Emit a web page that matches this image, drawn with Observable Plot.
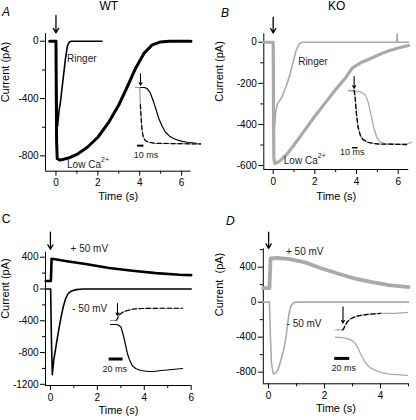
<!DOCTYPE html>
<html><head><meta charset="utf-8">
<script src="https://cdn.jsdelivr.net/npm/d3@7"></script>
<script src="https://cdn.jsdelivr.net/npm/@observablehq/plot@0.6"></script>
<style>
body{margin:0;background:#fff;}
#fig{position:relative;width:416px;height:420px;overflow:hidden;font-family:'Liberation Sans',Arial,sans-serif;color:#000;}
.abs{position:absolute;}
.lbl{position:absolute;font-size:12px;line-height:12px;white-space:nowrap;}
</style></head><body><div id="fig"></div>
<script>
// ---------- DATA (time in s, current in pA) ----------
// Panel A – WT
const wtRingerT = [-0.3, 0, 0.02, 0.05, 0.08, 0.15, 0.2, 0.3, 0.4, 0.45, 0.55, 0.65, 0.75, 2.2];
const wtRingerI = [0, 0, -300, -560, -590, -480, -440, -315, -190, -124, -30, -3, 0, 0];
const wtLowT = [-0.3, 0, 0.03, 0.06, 0.2, 0.6, 1.0, 1.5, 2.0, 2.5, 3.0, 3.4, 3.8, 4.2, 4.6, 5.0, 5.4, 6.45];
const wtLowI = [0, 0, -700, -820, -830, -815, -790, -740, -670, -570, -445, -320, -190, -85, -25, -5, 0, 0];
// Panel B – KO
const koRingerT = [-0.45, 0, 0.03, 0.07, 0.12, 0.2, 0.4, 0.6, 0.8, 0.95, 1.1, 1.25, 1.4, 5.93, 5.95, 5.97, 6.5];
const koRingerI = [0, 0, -300, -410, -340, -300, -270, -220, -160, -100, -40, -8, 0, 0, 40, 0, 0];
const koLowT = [-0.45, 0, 0.03, 0.08, 0.3, 0.7, 1.0, 1.5, 2.0, 2.5, 3.0, 3.5, 3.8, 4.2, 4.7, 5.2, 5.6, 6.0, 6.5];
const koLowI = [0, 0, -560, -590, -580, -540, -500, -430, -360, -295, -230, -170, -125, -100, -78, -55, -40, -28, -16];
// Panel C – WT, ±50 mV
const cPosT = [-0.2, 0.02, 0.05, 0.2, 0.7, 1.5, 2.5, 3.5, 4.5, 5.5, 6.0];
const cPosI = [100, 100, 380, 375, 350, 315, 265, 230, 200, 180, 175];
const cNegT = [-0.2, 0.01, 0.04, 0.08, 0.14, 0.25, 0.35, 0.45, 0.55, 0.65, 0.75, 0.9, 1.1, 1.4, 6.0];
const cNegI = [0, 0, -600, -1080, -900, -700, -520, -360, -220, -120, -60, -25, -8, 0, 0];
// Panel D – KO, ±50 mV
const dPosT = [-0.19, 0.03, 0.07, 0.3, 0.7, 1.3, 1.9, 2.5, 3.1, 3.7, 4.3, 5.0];
const dPosI = [160, 160, 500, 505, 495, 455, 385, 325, 268, 228, 195, 172];
const dNegT = [-0.19, 0.03, 0.06, 0.1, 0.17, 0.25, 0.35, 0.45, 0.55, 0.62, 0.68, 0.73, 0.8, 0.9, 1.0, 5.0];
const dNegI = [0, 0, -350, -700, -820, -810, -760, -650, -530, -400, -250, -130, -40, -5, 0, 0];

// Insets (time in ms, normalised current)
const insASlowT = [0, 8, 14, 18, 23, 28, 32, 36, 41, 46, 52, 59, 70, 80, 100];
const insASlowV = [0, 0, 0, -0.02, -0.1, -0.26, -0.4, -0.55, -0.68, -0.78, -0.85, -0.9, -0.94, -0.96, -0.99];
const insAFastT = [0, 6.5, 7.5, 8.5, 10, 12, 15, 20, 30, 100];
const insAFastV = [0, 0, -0.3, -0.5, -0.75, -0.87, -0.93, -0.96, -0.98, -0.99];
const insAFitFrom = 7.5;
const insBSlowT = [0, 20, 30, 35, 40, 45, 50, 56, 65, 100, 112];
const insBSlowV = [0, -0.02, -0.08, -0.22, -0.45, -0.7, -0.86, -0.95, -0.99, -1.0, -0.96];
const insBFastT = [0, 10, 11.5, 14, 17, 21, 26, 35, 50, 103];
const insBFastV = [0, 0, -0.1, -0.42, -0.68, -0.83, -0.91, -0.96, -0.99, -1.0];
const insBFitFrom = 10;
const insCUpT = [0, 8, 10, 13, 18, 24, 33, 45, 70, 103];
const insCUpV = [0, 0, 0.04, 0.12, 0.17, 0.2, 0.23, 0.24, 0.245, 0.245];
const insCFitFrom = 8;
const insCLowT = [0, 9, 12, 15, 19, 22, 24, 27, 31, 36, 43, 55, 62, 72, 81, 103];
const insCLowV = [-0.08, -0.08, -0.1, -0.13, -0.33, -0.52, -0.65, -0.78, -0.9, -0.96, -1.0, -1.02, -1.02, -1.0, -0.99, -0.96];
const insDUpT = [0, 9.5, 11, 13, 16, 20, 27, 35, 45, 60, 80, 96];
const insDUpV = [0, 0, 0.03, 0.1, 0.18, 0.24, 0.29, 0.32, 0.34, 0.36, 0.36, 0.38];
const insDFitRange = [9.5, 76];
const insDLowT = [0, 10, 18, 24, 28, 32, 36, 40, 46, 53, 62, 72, 96];
const insDLowV = [-0.16, -0.17, -0.2, -0.25, -0.33, -0.47, -0.6, -0.72, -0.82, -0.88, -0.93, -0.96, -0.99];

// Ticks
const timeTicks = [0, 2, 4, 6];
const timeTicksD = [0, 2, 4];
const timeMinor = [1, 3, 5];
const aTicks = [0, -400, -800], aMinor = [-200, -600];
const bTicks = [0, -200, -400, -600], bMinor = [-100, -300, -500];
const cTicks = [400, 0, -400, -800, -1200], cMinor = [200, -200, -600, -1000];
const dTicks = [400, 0, -400, -800], dMinor = [600, 200, -200, -600];

// ---------- RENDERING ----------
const FONT = "'Liberation Sans', Arial, sans-serif";
const BLACK = "#000", GRAY = "#aaaaaa";
const pts = (ts, vs) => ts.map((t, i) => ({t, v: vs[i]}));
const fmt = d => String(d);
const fig = document.getElementById("fig");

function place(el, left, top) {
  const w = document.createElement("div");
  w.className = "abs";
  w.style.left = left + "px"; w.style.top = top + "px";
  w.appendChild(el); fig.appendChild(w);
}

function panel(c) {
  const marks = [
    Plot.ruleX([c.xDomain[0]], {stroke: BLACK, strokeWidth: 1}),
    Plot.ruleY([c.yDomain[0]], {stroke: BLACK, strokeWidth: 1}),
    Plot.axisX(c.xTicks, {tickSize: 5, tickPadding: 3, label: null, tickFormat: fmt, fontSize: 10}),
    Plot.axisX(timeMinor.filter(d => d <= c.xDomain[1]), {tickSize: 3, label: null, tickFormat: () => ""}),
    Plot.axisY(c.yTicks, {tickSize: 5, tickPadding: 2, label: null, tickFormat: fmt, fontSize: 10}),
    Plot.axisY(c.yMinor, {tickSize: 3, label: null, tickFormat: () => ""}),
    ...c.series.map(s => Plot.line(pts(s.t, s.v), {x: "t", y: "v", stroke: s.color, strokeWidth: s.width, strokeLinejoin: "round", strokeLinecap: "round"})),
    Plot.text(c.labels, {x: "t", y: "v", text: "text", textAnchor: "start", fontSize: 10, fill: "#222"}),
    Plot.text(c.labels.filter(d => d.sup), {x: "t", y: "v", text: "sup", textAnchor: "start", fontSize: 7, dx: 34, dy: -5, fill: "#222"}),
    Plot.arrow([c.arrow], {x: "t", y1: "from", y2: "to", stroke: BLACK, strokeWidth: 1.3, headLength: 6}),
    Plot.text([c.yLabel], {text: d => d, frameAnchor: "left", rotate: -90, dx: c.yLabelDx, fontSize: 11}),
    Plot.text(["Time (s)"], {text: d => d, frameAnchor: "bottom", dy: c.xLabelDy, fontSize: 11})
  ];
  const svg = Plot.plot({
    width: c.width, height: c.height,
    marginLeft: c.m[0], marginRight: c.m[1], marginTop: c.m[2], marginBottom: c.m[3],
    x: {domain: c.xDomain}, y: {domain: c.yDomain},
    style: {fontFamily: FONT, fontSize: "10px", background: "transparent", overflow: "visible", color: "#000"},
    marks
  });
  place(svg, c.left, c.top);
}

function inset(c) {
  const marks = [
    ...c.series.map(s => Plot.line(pts(s.t, s.v).filter(d => d.t >= (s.from ?? -Infinity) && d.t <= (s.to ?? Infinity)),
      {x: "t", y: "v", stroke: s.color, strokeWidth: s.width, strokeDasharray: s.dash, strokeLinejoin: "round"})),
    Plot.ruleY([c.bar], {x1: "t1", x2: "t2", y: "v", stroke: BLACK, strokeWidth: c.bar.w}),
    Plot.text([c.bar], {x: "tx", y: "vx", text: "text", fontSize: 9, fill: "#222"}),
    Plot.arrow([c.arrow], {x: "t", y1: "from", y2: "to", stroke: BLACK, strokeWidth: 1.1, headLength: 4})
  ];
  const svg = Plot.plot({
    width: c.w, height: c.h, margin: 0,
    x: {domain: c.xd, axis: null}, y: {domain: c.yd, axis: null},
    style: {fontFamily: FONT, background: "transparent", overflow: "visible"},
    marks
  });
  place(svg, c.left, c.top);
}

panel({
  left: 0, top: 0, width: 208, height: 205, m: [45, 17.5, 33, 34.3],
  xDomain: [-0.5, 6.45], yDomain: [-907, 54], xTicks: timeTicks, yTicks: aTicks, yMinor: aMinor,
  series: [
    {t: wtLowT, v: wtLowI, color: BLACK, width: 3},
    {t: wtRingerT, v: wtRingerI, color: BLACK, width: 1.6}
  ],
  labels: [{t: 0.53, v: -124, text: "Ringer"}, {t: 0.53, v: -860, text: "Low Ca", sup: "2+"}],
  arrow: {t: 0, from: 180, to: 58},
  yLabel: "Current (pA)", yLabelDx: -40, xLabelDy: 28.6
});
panel({
  left: 208, top: 0, width: 208, height: 205, m: [55.3, 7.7, 33.3, 36],
  xDomain: [-0.45, 6.51], yDomain: [-619, 41], xTicks: timeTicks, yTicks: bTicks, yMinor: bMinor,
  series: [
    {t: koLowT, v: koLowI, color: GRAY, width: 3.2},
    {t: koRingerT, v: koRingerI, color: GRAY, width: 1.6}
  ],
  labels: [{t: 1.2, v: -97, text: "Ringer"}, {t: 0.51, v: -576, text: "Low Ca", sup: "2+"}],
  arrow: {t: 0, from: 122, to: 45},
  yLabel: "Current (pA)", yLabelDx: -44, xLabelDy: 30.3
});
panel({
  left: 0, top: 205, width: 208, height: 215, m: [45, 17.3, 46.7, 35],
  xDomain: [-0.21, 6.0], yDomain: [-1215, 463], xTicks: timeTicks, yTicks: cTicks, yMinor: cMinor,
  series: [
    {t: cPosT, v: cPosI, color: BLACK, width: 2.6},
    {t: cNegT, v: cNegI, color: BLACK, width: 1.6}
  ],
  labels: [{t: 0.86, v: 505, text: "+ 50 mV"}, {t: 0.93, v: -249, text: "- 50 mV"}],
  arrow: {t: 0, from: 714, to: 500},
  yLabel: "Current (pA)", yLabelDx: -40, xLabelDy: 28
});
panel({
  left: 208, top: 205, width: 208, height: 215, m: [54.8, 8, 43.3, 36.7],
  xDomain: [-0.19, 5.0], yDomain: [-933, 610], xTicks: timeTicksD, yTicks: dTicks, yMinor: dMinor,
  series: [
    {t: dPosT, v: dPosI, color: GRAY, width: 3.8},
    {t: dNegT, v: dNegI, color: GRAY, width: 1.6}
  ],
  labels: [{t: 0.62, v: 571, text: "+ 50 mV"}, {t: 0.64, v: -247, text: "- 50 mV"}],
  arrow: {t: 0, from: 800, to: 615},
  yLabel: "Current  (pA)", yLabelDx: -43.5, xLabelDy: 28.4
});

inset({
  left: 135, top: 87, w: 65, h: 57, xd: [0, 100], yd: [-1, 0],
  series: [
    {t: insASlowT, v: insASlowV, color: BLACK, width: 1.2},
    {t: insAFastT, v: insAFastV, color: "#999", width: 1.2},
    {t: insAFastT, v: insAFastV, color: BLACK, width: 1.2, dash: "4,3", from: insAFitFrom}
  ],
  bar: {t1: 3, t2: 13, v: -1.02, w: 2, tx: 16, vx: -1.18, text: "10 ms"},
  arrow: {t: 7.7, from: 0.24, to: 0.04}
});
inset({
  left: 348, top: 90, w: 62, h: 54, xd: [0, 110], yd: [-1, 0],
  series: [
    {t: insBSlowT, v: insBSlowV, color: GRAY, width: 1.3},
    {t: insBFastT, v: insBFastV, color: GRAY, width: 1.3},
    {t: insBFastT, v: insBFastV, color: BLACK, width: 1.3, dash: "4,3", from: insBFitFrom}
  ],
  bar: {t1: 7, t2: 17, v: -1.06, w: 1.5, tx: 6.5, vx: -1.14, text: "10 ms"},
  arrow: {t: 10, from: 0.26, to: 0.04}
});
inset({
  left: 110, top: 307, w: 72, h: 64, xd: [0, 103], yd: [-1.02, 0.26],
  series: [
    {t: insCUpT, v: insCUpV, color: "#999", width: 1.2},
    {t: insCUpT, v: insCUpV, color: BLACK, width: 1.2, dash: "4,3", from: insCFitFrom},
    {t: insCLowT, v: insCLowV, color: BLACK, width: 1.2}
  ],
  bar: {t1: -2, t2: 18, v: -0.77, w: 3, tx: 6, vx: -0.97, text: "20 ms"},
  arrow: {t: 10, from: 0.34, to: 0.1}
});
inset({
  left: 335, top: 311, w: 72, h: 64.4, xd: [0, 96], yd: [-1.0, 0.4],
  series: [
    {t: insDUpT, v: insDUpV, color: GRAY, width: 1.3},
    {t: insDUpT, v: insDUpV, color: BLACK, width: 1.3, dash: "4,3", from: insDFitRange[0], to: insDFitRange[1]},
    {t: insDLowT, v: insDLowV, color: GRAY, width: 1.3}
  ],
  bar: {t1: -1, t2: 19, v: -0.62, w: 3, tx: 11, vx: -0.83, text: "20 ms"},
  arrow: {t: 10, from: 0.5, to: 0.15}
});

// Panel letters and titles
const texts = [
  {s: "A", left: 2, top: 6.4, italic: true},
  {s: "B", left: 221, top: 6.7, italic: true},
  {s: "C", left: 1.7, top: 213.4, italic: false},
  {s: "D", left: 226, top: 215.1, italic: true},
  {s: "WT", left: 99.5, top: 0.1, italic: false},
  {s: "KO", left: 328, top: 0.1, italic: false}
];
for (const d of texts) {
  const e = document.createElement("div");
  e.className = "lbl";
  e.textContent = d.s;
  e.style.left = d.left + "px"; e.style.top = d.top + "px";
  if (d.italic) e.style.fontStyle = "italic";
  fig.appendChild(e);
}
</script></body></html>
